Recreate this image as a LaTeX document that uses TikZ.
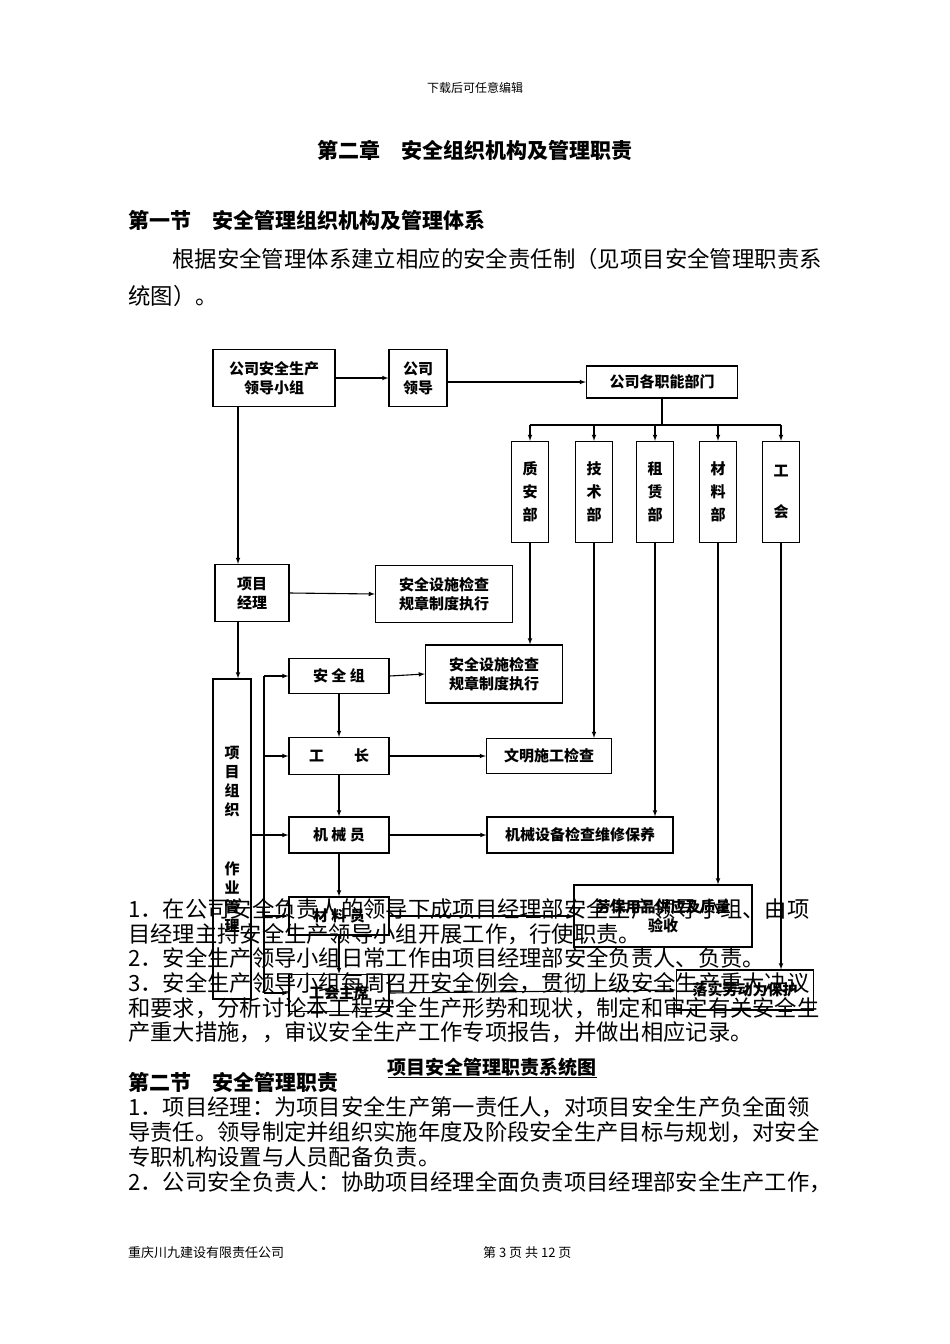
\documentclass[tikz,border=0pt]{standalone}
\usepackage{fontspec}
\setmainfont{Noto Sans CJK SC}
\begin{document}
\begin{tikzpicture}[x=1pt,y=-1pt,
  bx/.style={draw,line width=1.3pt,font=\fontsize{15}{19}\selectfont\bfseries,align=center,inner sep=0},
  ar/.style={-latex,line width=1.1pt},
  ln/.style={line width=1.1pt},
  tx/.style={anchor=west,inner sep=0,font=\fontsize{22.3}{26}\selectfont}]
\useasboundingbox (0,0) rectangle (950,1344);
\fill[white] (0,0) rectangle (950,1344);
% diagram boxes
\node[bx,minimum width=122,minimum height=57] (a) at (274,378) {公司安全生产\\领导小组};
\node[bx,minimum width=58,minimum height=57] (b) at (418,378) {公司\\领导};
\node[bx,minimum width=151,minimum height=32] (c) at (662,382) {公司各职能部门};
\foreach \n/\x/\t in {d1/530/质\\[4pt]安\\[4pt]部, d2/594/技\\[4pt]术\\[4pt]部, d3/655/租\\[4pt]赁\\[4pt]部, d4/718/材\\[4pt]料\\[4pt]部, d5/781/工\\[22pt]会}
  \node[bx,minimum width=37,minimum height=101] (\n) at (\x,492) {\t};
\node[bx,minimum width=74,minimum height=57] (pm) at (252,593) {项目\\经理};
\node[bx,minimum width=137,minimum height=57] (s1) at (444,594) {安全设施检查\\规章制度执行};
\node[bx,minimum width=38,minimum height=320] (org) at (232,839) {项\\目\\组\\织\\[40pt]作\\业\\管\\理};
\node[bx,minimum width=100,minimum height=35] (g1) at (339,676) {安\ 全\ 组};
\node[bx,minimum width=137,minimum height=58] (s2) at (494,674) {安全设施检查\\规章制度执行};
\node[bx,minimum width=100,minimum height=37] (g2) at (339,756) {工\quad\quad 长};
\node[bx,minimum width=125,minimum height=35] (w) at (549,756) {文明施工检查};
\node[bx,minimum width=100,minimum height=36] (g3) at (339,835) {机\ 械\ 员};
\node[bx,minimum width=186,minimum height=36] (m) at (580,835) {机械设备检查维修保养};
\node[bx,minimum width=100,minimum height=38] (g4) at (339,916) {材\ 料\ 员};
\node[bx,minimum width=178,minimum height=62] (lb) at (663,916) {劳保用品供应及质量\\验收};
\node[bx,minimum width=100,minimum height=37] (g5) at (339,993) {工会主席};
\node[bx,minimum width=137,minimum height=40] (lo) at (745,990) {落实劳动力保护};
% connectors
\draw[ar] (a.east) -- (b.west);
\draw[ar] (b.east|-c.west) -- (c.west);
\draw[ar] ([xshift=-36pt]a.south) -- ([xshift=-14pt]pm.north);
\draw[ar] (pm.east) -- (s1.west);
\draw[ar] ([xshift=-14pt]pm.south) -- ([xshift=6pt]org.north);
\draw[ln] (c.south) -- ++(0,27);
\draw[ln] (d1.north|-425,425) -- (d5.north|-425,425);
\foreach \n in {d1,d2,d3,d4,d5} \draw[ar] (\n.north|-425,425) -- (\n.north);
\draw[ar] (d1.south) -- (d1.south|-s2.north);
\draw[ar] (d2.south) -- (d2.south|-w.north);
\draw[ar] (d3.south) -- (d3.south|-m.north);
\draw[ar] (d4.south) -- (d4.south|-lb.north);
\draw[ar] (d5.south) -- (d5.south|-lo.north);
\draw[ar] (g1.east) -- (s2.west);
\draw[ar] (g2.east) -- (w.west);
\draw[ar] (g3.east) -- (m.west);
\draw[ar] (g4.east) -- (lb.west);
\draw[ar] (g5.east) -- (lo.west);
\draw[ar] (g1) -- (g2); \draw[ar] (g2) -- (g3); \draw[ar] (g3) -- (g4); \draw[ar] (g4) -- (g5);
\coordinate (vt) at (264,676); \coordinate (vb) at (264,993);
\draw[ln] (vt) -- (vb);
\draw[ar] (vt) -- (g1.west);
\draw[ar] (264,756) -- (g2.west);
\draw[ar] (org.east|-g3.west) -- (g3.west);
\draw[ar] (264,916) -- (g4.west);
\draw[ar] (vb) -- (g5.west);
% page text
\node[inner sep=0,font=\fontsize{12}{14}\selectfont] (hd) at (475,88) {下载后可任意编辑};
\node[inner sep=0,font=\fontsize{21}{24}\selectfont\bfseries] (t) at (475,150) {第二章\quad 安全组织机构及管理职责};
\node[tx,font=\fontsize{21}{24}\selectfont\bfseries] (s) at (128,220) {第一节\quad 安全管理组织机构及管理体系};
\node[tx,font=\fontsize{22.4}{26}\selectfont] (p1) at (172,259) {根据安全管理体系建立相应的安全责任制（见项目安全管理职责系};
\node[tx,font=\fontsize{22.4}{26}\selectfont] (p2) at (128,296) {统图）。};
\node[tx] (l1) at (128,909) {1．在公司安全负责人的领导下成项目经理部安全生产领导小组、由项};
\node[tx] (l2) at (128,934) {目经理主持安全生产领导小组开展工作，行使职责。};
\node[tx] (l3) at (128,958) {2．安全生产领导小组日常工作由项目经理部安全负责人、负责。};
\node[tx] (l4) at (128,983) {3．安全生产领导小组每周召开安全例会，贯彻上级安全生产重大决议};
\node[tx] (l5) at (128,1008) {和要求，分析讨论本工程安全生产形势和现状，制定和审定有关安全生};
\node[tx] (l6) at (128,1032) {产重大措施，，审议安全生产工作专项报告，并做出相应记录。};
\node[inner sep=0,font=\fontsize{19}{22}\selectfont\bfseries] (cap) at (492,1068) {\underline{项目安全管理职责系统图}};
\node[tx,font=\fontsize{21}{24}\selectfont\bfseries] (s2h) at (128,1082) {第二节\quad 安全管理职责};
\node[tx] (m1) at (128,1107) {1．项目经理：为项目安全生产第一责任人，对项目安全生产负全面领};
\node[tx] (m2) at (128,1132) {导责任。领导制定并组织实施年度及阶段安全生产目标与规划，对安全};
\node[tx] (m3) at (128,1157) {专职机构设置与人员配备负责。};
\node[tx] (m4) at (128,1182) {2．公司安全负责人：协助项目经理全面负责项目经理部安全生产工作，};
\node[tx,font=\fontsize{13}{15}\selectfont] (f1) at (128,1253) {重庆川九建设有限责任公司};
\node[tx,font=\fontsize{13}{15}\selectfont] (f2) at (483,1253) {第 3 页 共 12 页};
\end{tikzpicture}
\end{document}
